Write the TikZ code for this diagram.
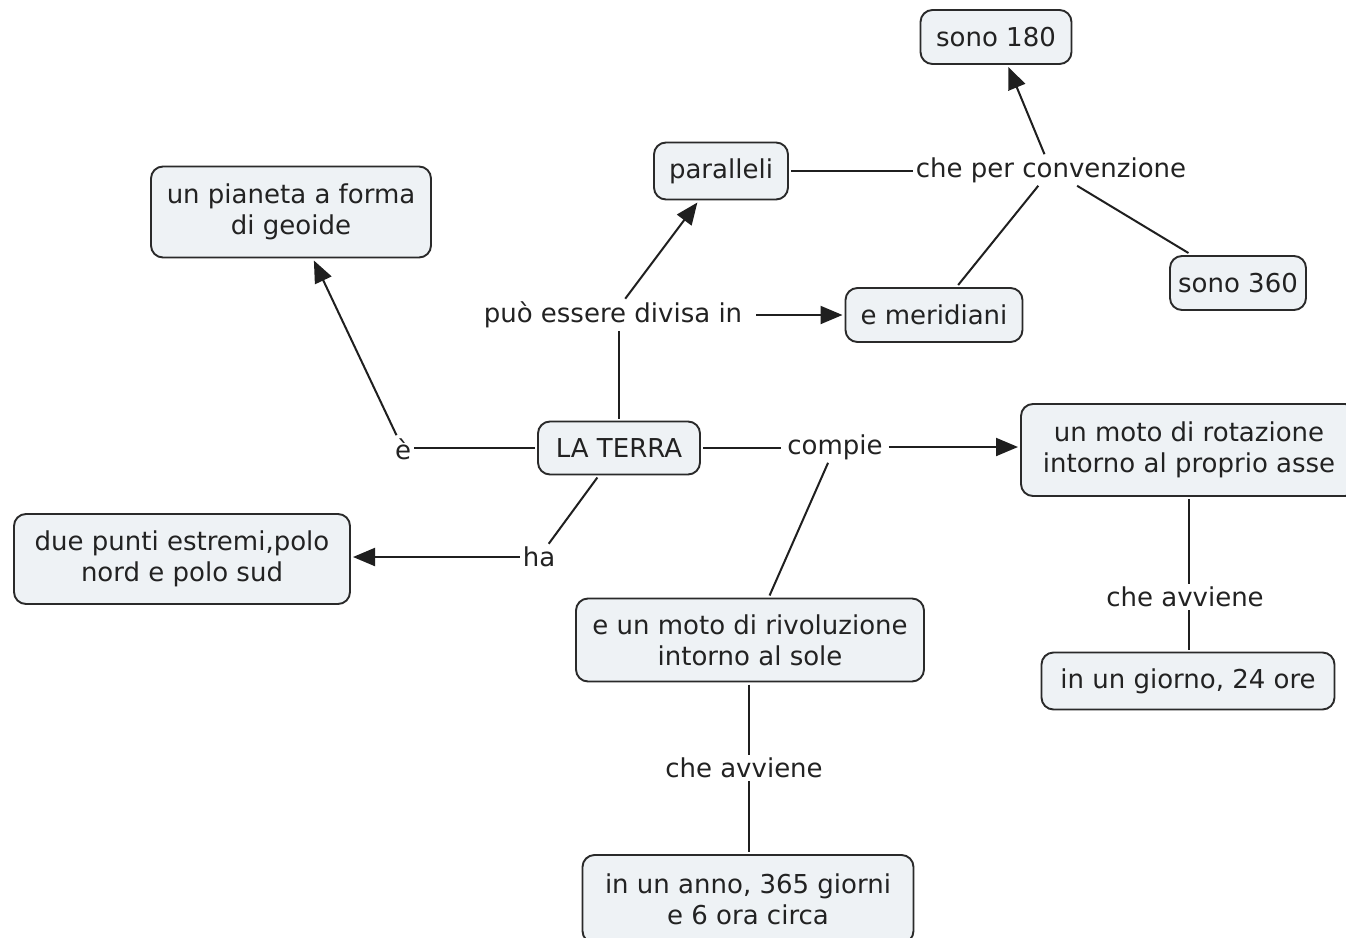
\documentclass[tikz,border=0pt]{standalone}
\usepackage{fontspec}
\setmainfont{DejaVu Sans}
\usetikzlibrary{arrows.meta}
\definecolor{boxfill}{HTML}{EEF2F5}
\definecolor{boxdraw}{HTML}{2A2A2A}
\definecolor{txt}{HTML}{222222}
\tikzset{
  concept/.style={draw=boxdraw, line width=1.9pt, fill=boxfill, rounded corners=12pt,
    align=center, text=txt, font=\fontsize{26}{31}\selectfont, inner sep=0pt, outer sep=3pt},
  linkph/.style={text=txt, font=\fontsize{26}{31}\selectfont, inner sep=3pt, align=center},
  conn/.style={draw=black!88, line width=2pt},
  arr/.style={conn, -{Triangle[length=22pt,width=18pt]}}
}
\begin{document}
\begin{tikzpicture}[x=1pt,y=-1pt]
\useasboundingbox (0,0) rectangle (1346,937);
\fill[white] (0,0) rectangle (1346,937);
% concepts
\node[concept, minimum width=151pt, minimum height=54pt] (s180) at (996,37) {sono 180};
\node[concept, minimum width=134pt, minimum height=57pt] (par) at (721,171) {paralleli};
\node[concept, minimum width=280pt, minimum height=91pt] (pian) at (291,212) {un pianeta a forma\\di geoide};
\node[concept, minimum width=136pt, minimum height=54pt] (s360) at (1238,283) {sono 360};
\node[concept, minimum width=177pt, minimum height=54pt] (mer) at (934,315) {e meridiani};
\node[concept, minimum width=162pt, minimum height=53pt] (terra) at (619,448) {LA TERRA};
\node[concept, minimum width=336pt, minimum height=92pt] (rot) at (1189,450) {un moto di rotazione\\intorno al proprio asse};
\node[concept, minimum width=336pt, minimum height=90pt] (due) at (182,559) {due punti estremi,polo\\nord e polo sud};
\node[concept, minimum width=348pt, minimum height=83pt] (riv) at (750,640) {e un moto di rivoluzione\\intorno al sole};
\node[concept, minimum width=293pt, minimum height=57pt] (gio) at (1188,681) {in un giorno, 24 ore};
\node[concept, minimum width=331pt, minimum height=88pt] (anno) at (748,899) {in un anno, 365 giorni\\e 6 ora circa};
% linking phrases
\node[linkph] (conv) at (1051,170) {che per convenzione};
\node[linkph, inner xsep=14pt] (div) at (613,315) {può essere divisa in};
\node[linkph] (e) at (403,449) {è};
\node[linkph, inner xsep=6pt] (compie) at (835,447) {compie};
\node[linkph] (ha) at (539,557) {ha};
\node[linkph] (av1) at (1185,597) {che avviene};
\node[linkph] (av2) at (744,768) {che avviene};
% connectors
\draw[conn] (terra.north) -- (terra.north |- div.south);
\draw[arr] (div) -- (par);
\draw[arr] (div) -- (mer);
\draw[conn] (par.east) -- (par.east -| conv.west);
\draw[arr] (conv) -- (s180);
\draw[conn] (conv) -- (mer);
\draw[conn] (conv) -- (s360);
\draw[conn] (terra.west) -- (terra.west -| e.east);
\draw[arr] (e) -- (pian);
\draw[conn] (terra.east) -- (terra.east -| compie.west);
\draw[arr] (compie) -- (compie -| rot.west);
\draw[conn] (compie) -- (riv);
\draw[conn] (terra) -- (ha);
\draw[arr] (ha) -- (ha -| due.east);
\draw[conn] (rot.south) -- (rot.south |- av1.north);
\draw[conn] (rot.south |- av1.south) -- (gio.north -| rot.south);
\draw[conn] ([xshift=-1pt]riv.south) -- ([xshift=-1pt]riv.south |- av2.north);
\draw[conn] ([xshift=-1pt]riv.south |- av2.south) -- ([xshift=-1pt]riv.south |- anno.north);
\end{tikzpicture}
\end{document}
